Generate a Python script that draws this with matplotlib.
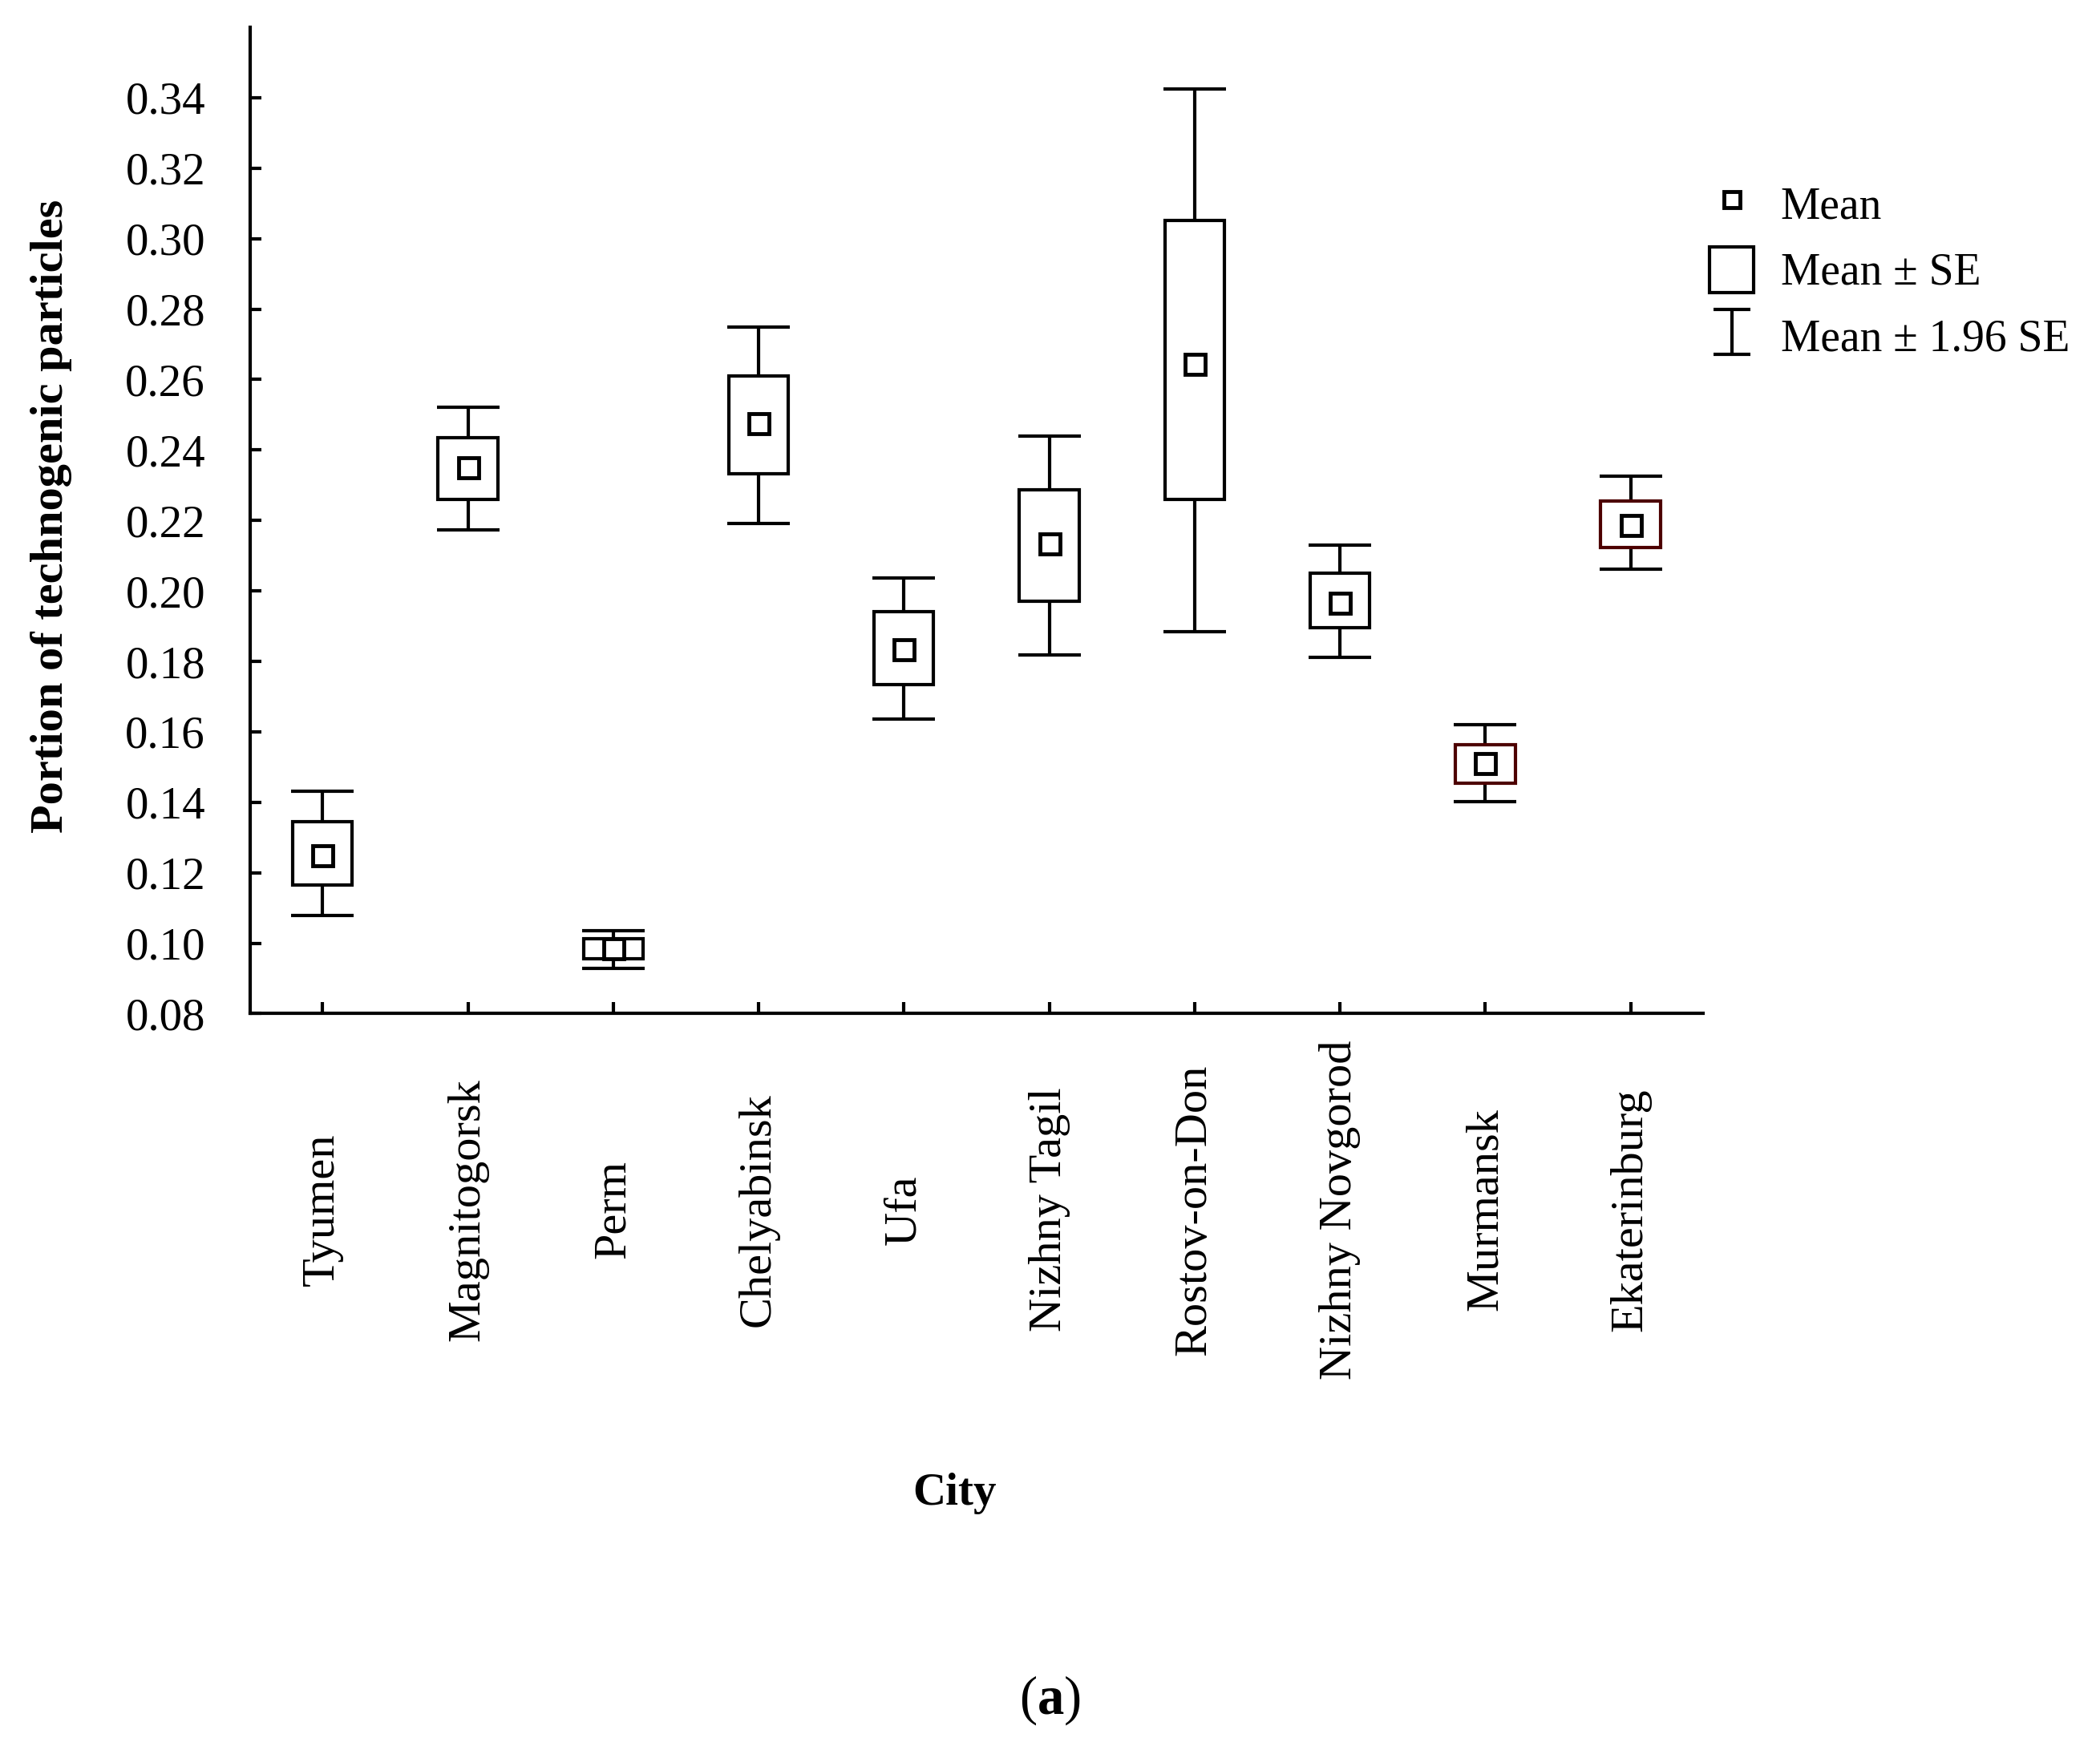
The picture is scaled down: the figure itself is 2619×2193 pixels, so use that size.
import numpy as np
import matplotlib
matplotlib.use('Agg')
import matplotlib.pyplot as plt
from matplotlib.lines import Line2D
from matplotlib.patches import Rectangle
from matplotlib.path import Path

plt.rcParams['font.family'] = ['Liberation Serif', 'DejaVu Serif']
plt.rcParams['mathtext.fontset'] = 'custom'
plt.rcParams['mathtext.rm'] = 'Liberation Serif'
plt.rcParams['mathtext.bf'] = 'Liberation Serif:bold'

# valori
citta = ['Tyumen', 'Magnitogorsk', 'Perm', 'Chelyabinsk', 'Ufa', 'Nizhny Tagil',
         'Rostov-on-Don', 'Nizhny Novgorod', 'Murmansk', 'Ekaterinburg']
media = [0.125, 0.235, 0.0985, 0.2477, 0.1834, 0.2135, 0.2644, 0.1967, 0.1511, 0.2188]
se_basso = [0.1165, 0.226, 0.0956, 0.2332, 0.1735, 0.1971, 0.226, 0.1895, 0.1454, 0.2123]
se_alto = [0.1344, 0.2435, 0.1013, 0.261, 0.194, 0.2287, 0.3051, 0.2051, 0.1564, 0.2256]
ci_basso = [0.1078, 0.2173, 0.0929, 0.2192, 0.1637, 0.1819, 0.1884, 0.1811, 0.1401, 0.2062]
ci_alto = [0.1431, 0.2522, 0.1036, 0.275, 0.2036, 0.2439, 0.3424, 0.2131, 0.1621, 0.2325]
colori_box = ['black'] * 8 + ['#4d0000'] * 2

x = np.arange(1, len(citta) + 1)
media = np.array(media)
se_basso = np.array(se_basso)
se_alto = np.array(se_alto)
ci_basso = np.array(ci_basso)
ci_alto = np.array(ci_alto)

fig = plt.figure(figsize=(26.19, 21.93), dpi=100)
ax = fig.add_axes([0.119, 0.4234, 0.6921, 0.5611])

# baffi (media +- 1.96 SE)
ax.errorbar(x, media, yerr=[media - ci_basso, ci_alto - media], fmt='none',
            ecolor='black', elinewidth=3, capsize=28, capthick=3, zorder=1)
# scatole (media +- SE)
ax.bar(x, se_alto - se_basso, bottom=se_basso, width=0.41, facecolor='white',
       edgecolor=colori_box, linewidth=3, zorder=2)
# media
ax.plot(x, media, ls='none', marker='s', ms=18, mfc='white', mec='black',
        mew=3.5, zorder=3)

ax.set_xlim(0.5, 10.5)
ax.set_ylim(0.08, 0.36)
ax.set_yticks(np.arange(0.08, 0.3401, 0.02))
ax.set_yticklabels([f'{v:.2f}' for v in np.arange(0.08, 0.3401, 0.02)])
ax.set_xticks(x)
ax.set_xticklabels(citta, rotation=90, va='center')
ax.tick_params(axis='both', direction='in', length=10, width=3, labelsize=41)
ax.tick_params(axis='x', labelsize=42)
ax.tick_params(axis='y', pad=40)
ax.tick_params(axis='x', pad=176)
for s in ['top', 'right']:
    ax.spines[s].set_visible(False)
for s in ['left', 'bottom']:
    ax.spines[s].set_linewidth(3)

ax.set_ylabel('Portion of technogenic particles', fontsize=42, fontweight='bold')
ax.yaxis.set_label_coords(-0.1225, 0.504)
ax.set_xlabel('City', fontsize=41, fontweight='bold')
ax.xaxis.set_label_coords(0.485, -0.465)

# legenda
ibeam = Path([(-0.42, -0.5), (0.42, -0.5), (0, -0.5), (0, 0.5), (-0.42, 0.5), (0.42, 0.5)],
             [Path.MOVETO, Path.LINETO, Path.MOVETO, Path.LINETO, Path.MOVETO, Path.LINETO])
h_media = Line2D([], [], ls='none', marker='s', ms=15, mfc='white', mec='black', mew=3.5)
h_se = Rectangle((0, 0), 1, 1, facecolor='white', edgecolor='black', linewidth=3)
h_ci = Line2D([], [], ls='none', marker=ibeam, ms=40, mec='black', mew=3, fillstyle='none')
fig.legend([h_media, h_se, h_ci], ['Mean', 'Mean ± SE', 'Mean ± 1.96 SE'],
           loc='upper left', bbox_to_anchor=(0.814, 0.8974), frameon=False,
           fontsize=40, borderpad=0, borderaxespad=0, handlelength=1.0,
           handleheight=1.2, handletextpad=0.6, labelspacing=0.42)

fig.text(0.5, 0.033, r'($\mathbf{a}$)', fontsize=48, ha='center', va='center')

fig.savefig('out.png', dpi=100)
